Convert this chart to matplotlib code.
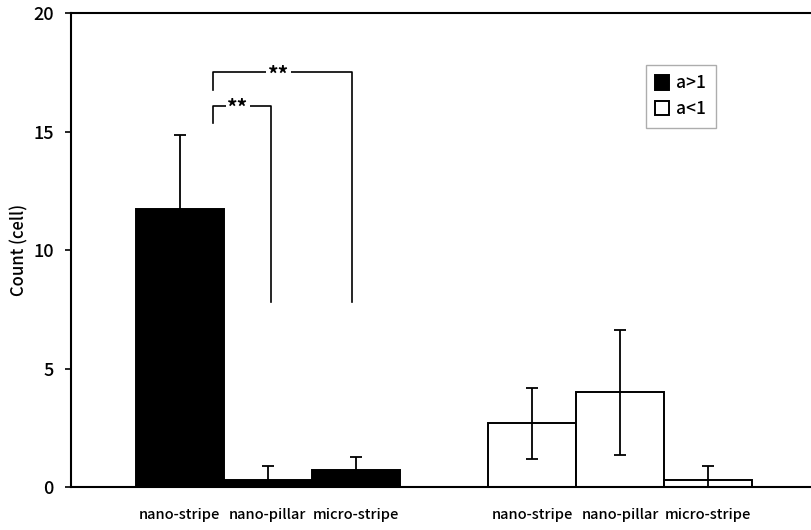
import matplotlib.pyplot as plt
import numpy as np

plt.rcParams['font.family'] = ['Noto Sans CJK JP', 'DejaVu Sans']

# ---- data ----
categories = ["nano-stripe", "nano-pillar", "micro-stripe"]
gt1_mean = [11.75, 0.31, 0.73]
gt1_err = [3.1, 0.59, 0.52]
lt1_mean = [2.7, 4.0, 0.28]
lt1_err = [1.5, 2.64, 0.63]
series_labels = ["a>1", "a<1"]

# significance brackets: (left x, right x, top y, left-leg bottom, right-leg bottom, text)
brackets = [
    (0.38, 1.04, 16.1, 15.36, 7.83, "**"),
    (0.38, 1.96, 17.5, 16.76, 7.83, "**"),
]

x1 = np.arange(3)
x2 = np.arange(3) + 4

fig = plt.figure(figsize=(8.12, 5.3), dpi=100)
ax = fig.add_axes([0.087, 0.081, 0.913, 0.894])

def lower(m, e):
    return [min(a, b) for a, b in zip(m, e)]

ax.bar(x1, gt1_mean, width=1.0, color='black', edgecolor='black', linewidth=1.4,
       label=series_labels[0], zorder=2)
ax.errorbar(x1, gt1_mean, yerr=[lower(gt1_mean, gt1_err), gt1_err], fmt='none',
            ecolor='black', elinewidth=1.3, capsize=4.5, capthick=1.3, zorder=3)
ax.bar(x2, lt1_mean, width=1.0, color='white', edgecolor='black', linewidth=1.4,
       label=series_labels[1], zorder=2)
ax.errorbar(x2, lt1_mean, yerr=[lower(lt1_mean, lt1_err), lt1_err], fmt='none',
            ecolor='black', elinewidth=1.3, capsize=4.5, capthick=1.3, zorder=3)

for xl, xr, yt, bl, br, txt in brackets:
    ax.plot([xl, xl, xr, xr], [bl, yt, yt, br], color='black', lw=1.2, zorder=3)
    ax.text((xl + xr) / 2 - 0.05, yt - 0.1, txt, ha='center', va='center', fontsize=15,
            fontweight='bold', zorder=4,
            bbox=dict(facecolor='white', edgecolor='none', pad=1.0))

ax.set_xlim(-1.24, 7.18)
ax.set_ylim(0, 20)
ax.set_yticks([0, 5, 10, 15, 20])
ax.tick_params(axis='y', labelsize=13, length=4, width=1.2, direction='out', pad=8)
for t in ax.get_yticklabels():
    t.set_fontweight('medium')
ax.set_xticks(list(x1) + list(x2))
ax.set_xticklabels(categories + categories, fontsize=10.5, fontweight='medium')
ax.tick_params(axis='x', length=0, pad=15)
ax.set_ylabel("Count (cell)", fontsize=12, fontweight='medium')
ax.yaxis.set_label_coords(-0.057, 0.5)

for s in ['left', 'bottom', 'top']:
    ax.spines[s].set_linewidth(1.5)
ax.spines['right'].set_visible(False)

leg = ax.legend(loc='upper left', bbox_to_anchor=(0.776, 0.891),
                prop={'size': 12.5, 'weight': 'medium'},
                frameon=True, fancybox=False, edgecolor='#999999',
                handlelength=0.8, handleheight=0.9, handletextpad=0.4,
                borderpad=0.55, labelspacing=0.45, borderaxespad=0)
leg.get_frame().set_linewidth(1.0)

fig.savefig("out.png", dpi=100)
